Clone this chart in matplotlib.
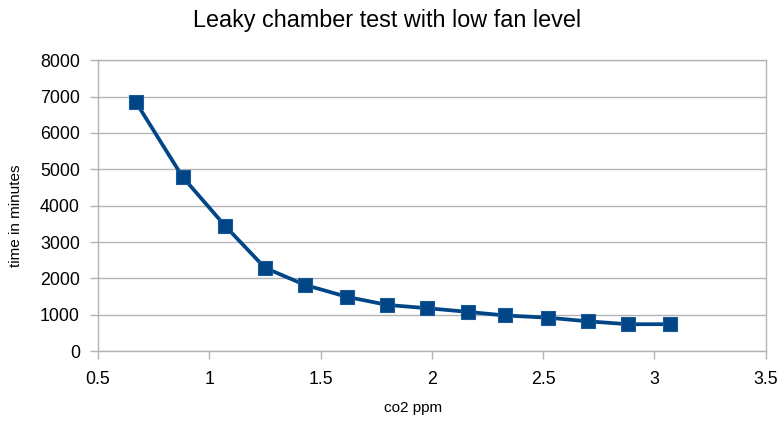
import matplotlib
matplotlib.use("Agg")
import matplotlib.pyplot as plt

# data
co2_ppm = [0.67, 0.88, 1.07, 1.25, 1.43, 1.62, 1.80, 1.98, 2.16, 2.33, 2.52, 2.70, 2.88, 3.07]
minutes = [6850, 4790, 3450, 2290, 1820, 1490, 1270, 1180, 1080, 980, 920, 820, 740, 740]

x_ticks = [0.5, 1, 1.5, 2, 2.5, 3, 3.5]
y_ticks = [0, 1000, 2000, 3000, 4000, 5000, 6000, 7000, 8000]

plt.rcParams["font.family"] = ["Liberation Sans", "DejaVu Sans"]

grey = "#b3b3b3"
blue = "#004586"

fig = plt.figure(figsize=(7.81, 4.21), dpi=100)
ax = fig.add_axes([0.1255, 0.166, 0.855, 0.691])

ax.plot(co2_ppm, minutes, color=blue, linewidth=2.7, marker="s", markersize=9.5,
        markerfacecolor=blue, markeredgecolor="#1a5a96", markeredgewidth=0.8, zorder=3)

ax.set_xlim(0.5, 3.5)
ax.set_ylim(0, 8000)
ax.set_xticks(x_ticks)
ax.set_xticklabels([f"{v:g}" for v in x_ticks])
ax.set_yticks(y_ticks)
ax.grid(True, axis="y", color=grey, linewidth=1)
ax.set_axisbelow(True)

for side in ("left", "bottom", "right", "top"):
    ax.spines[side].set_color(grey)
    ax.spines[side].set_linewidth(1)

ax.tick_params(axis="both", colors=grey, labelcolor="#000000", labelsize=12.8,
               length=6, width=1, direction="out")
ax.tick_params(axis="x", pad=8)
ax.tick_params(axis="y", pad=7)

fig.text(0.495, 0.952, "Leaky chamber test with low fan level", ha="center", va="center", fontsize=16.8)
fig.text(0.529, 0.03, "co2 ppm", ha="center", va="center", fontsize=11)
fig.text(0.021, 0.487, "time in minutes", ha="center", va="center", rotation=90, fontsize=11)

fig.savefig("out.png", dpi=100)
